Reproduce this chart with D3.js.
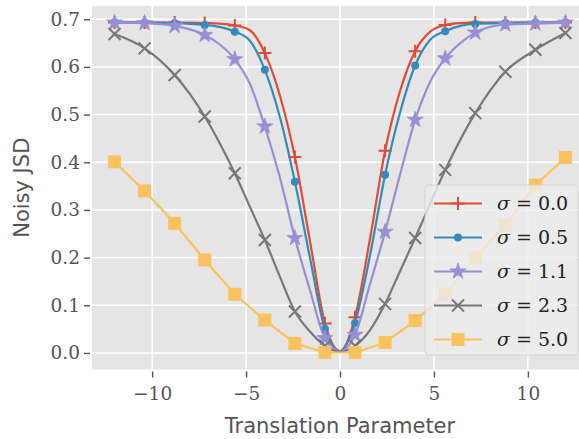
<!DOCTYPE html>
<meta charset="utf-8">
<style>
    body { margin: 0; background: #fff; }
    .tick-label { font-family: "DejaVu Serif", serif; font-size: 18.5px; fill: #555; }
    .axis-label { font-family: "DejaVu Sans", sans-serif; font-size: 21px; fill: #555; }
    .leg-text { font-family: "DejaVu Serif", serif; font-size: 19px; fill: #222; }
</style>
<svg width="579" height="439"></svg>
<script src="https://d3js.org/d3.v7.min.js"></script>
<script>

    // x positions (the markers sit on the 1.6 grid, extra points only shape the lines)
    var xFine = [-12, -10.4, -8.8, -7.2, -6.4, -5.6, -4.8, -4, -3.2, -2.4, -1.6, -0.8, 0,
        0.8, 1.6, 2.4, 3.2, 4, 4.8, 5.6, 6.4, 7.2, 8.8, 10.4, 12];
    var xMarks = [-12, -10.4, -8.8, -7.2, -5.6, -4, -2.4, -0.8, 0.8, 2.4, 4, 5.6, 7.2, 8.8, 10.4, 12];

    var jsd00 = [0.693, 0.693, 0.693, 0.692, 0.691, 0.687, 0.677, 0.629, 0.540, 0.411, 0.235, 0.062, 0.004,
        0.075, 0.240, 0.424, 0.550, 0.633, 0.674, 0.688, 0.692, 0.693, 0.693, 0.693, 0.693];
    var jsd05 = [0.693, 0.693, 0.692, 0.688, 0.684, 0.674, 0.655, 0.594, 0.495, 0.359, 0.200, 0.050, 0.004,
        0.063, 0.205, 0.374, 0.505, 0.603, 0.657, 0.675, 0.686, 0.690, 0.692, 0.693, 0.693];
    var jsd11 = [0.693, 0.692, 0.686, 0.667, 0.647, 0.616, 0.565, 0.475, 0.368, 0.241, 0.132, 0.031, 0.004,
        0.038, 0.145, 0.254, 0.375, 0.489, 0.569, 0.618, 0.650, 0.672, 0.689, 0.691, 0.693];
    var jsd23 = [0.669, 0.639, 0.583, 0.496, 0.440, 0.377, 0.307, 0.237, 0.160, 0.087, 0.045, 0.015, 0.003,
        0.015, 0.048, 0.103, 0.172, 0.241, 0.313, 0.384, 0.447, 0.503, 0.590, 0.636, 0.671];
    var jsd50 = [0.401, 0.340, 0.272, 0.195, 0.123, 0.069, 0.020, 0.001, 0.001, 0.022, 0.068, 0.122,
        0.200, 0.268, 0.352, 0.410];

    var legendLabels = ["0.0", "0.5", "1.1", "2.3", "5.0"];
    var xTicks = [-10, -5, 0, 5, 10];
    var yTicks = [0.0, 0.1, 0.2, 0.3, 0.4, 0.5, 0.6, 0.7];

    var series = [
        { name: legendLabels[0], xs: xFine, ys: jsd00, color: "#E24A33", marker: "plus", smooth: true },
        { name: legendLabels[1], xs: xFine, ys: jsd05, color: "#348ABD", marker: "dot", smooth: true },
        { name: legendLabels[2], xs: xFine, ys: jsd11, color: "#988ED5", marker: "star", smooth: true },
        { name: legendLabels[3], xs: xFine, ys: jsd23, color: "#777777", marker: "cross", smooth: true },
        { name: legendLabels[4], xs: xMarks, ys: jsd50, color: "#FBC15E", marker: "square", smooth: false }
    ];

    var svg = d3.select("svg");
    var mLeft = 92, mRight = 588, mTop = 6, mBottom = 369.5;

    var x = d3.scaleLinear().domain([-13.2, 13.2]).range([mLeft, mRight]);
    var y = d3.scaleLinear().domain([-0.0347, 0.7278]).range([mBottom, mTop]);

    // background + grid
    svg.append("rect")
        .attr("x", mLeft).attr("y", mTop)
        .attr("width", mRight - mLeft).attr("height", mBottom - mTop)
        .attr("fill", "#E5E5E5");

    var grid = svg.append("g");
    grid.selectAll(".gx").data(xTicks).enter().append("line")
        .attr("x1", d => x(d)).attr("x2", d => x(d))
        .attr("y1", mTop).attr("y2", mBottom)
        .attr("stroke", "#fff").attr("stroke-width", 1.5);
    grid.selectAll(".gy").data(yTicks).enter().append("line")
        .attr("y1", d => y(d)).attr("y2", d => y(d))
        .attr("x1", mLeft).attr("x2", mRight)
        .attr("stroke", "#fff").attr("stroke-width", 1.5);

    // axes
    var xAxis = svg.append("g")
        .attr("transform", "translate(0," + (mBottom + 2) + ")")
        .call(d3.axisBottom(x).tickValues(xTicks).tickSize(6).tickPadding(6)
            .tickFormat(d => d < 0 ? "\u2212" + Math.abs(d) : d));
    var yAxis = svg.append("g")
        .attr("transform", "translate(" + (mLeft - 2) + ",0)")
        .call(d3.axisLeft(y).tickValues(yTicks).tickSize(6).tickPadding(4)
            .tickFormat(d3.format(".1f")));

    [xAxis, yAxis].forEach(function (g) {
        g.attr("font-family", null).attr("font-size", null);
        g.select(".domain").remove();
        g.selectAll(".tick line").attr("stroke", "#555").attr("stroke-width", 1.4);
        g.selectAll(".tick text").attr("class", "tick-label");
    });
    xAxis.selectAll(".tick text").attr("dy", "0.9em");

    svg.append("text")
        .attr("class", "axis-label")
        .attr("x", x(0)).attr("y", 433)
        .attr("text-anchor", "middle")
        .text("Translation Parameter");
    svg.append("text")
        .attr("class", "axis-label")
        .attr("transform", "translate(29," + ((mTop + mBottom) / 2) + ") rotate(-90)")
        .attr("text-anchor", "middle")
        .text("Noisy JSD");

    // markers
    function drawMarker(g, type, color) {
        if (type === "plus") {
            g.append("path").attr("d", "M-6.5,0H6.5M0,-6.5V6.5")
                .attr("stroke", color).attr("stroke-width", 2).attr("fill", "none");
        } else if (type === "cross") {
            g.append("path").attr("d", "M-6,-6L6,6M-6,6L6,-6")
                .attr("stroke", color).attr("stroke-width", 2).attr("fill", "none");
        } else if (type === "dot") {
            g.append("circle").attr("r", 4).attr("fill", color);
        } else if (type === "star") {
            g.append("path").attr("d", d3.symbol().type(d3.symbolStar).size(80)())
                .attr("fill", color).attr("stroke", color).attr("stroke-width", 0.8);
        } else if (type === "square") {
            g.append("rect").attr("x", -6.5).attr("y", -6.5).attr("width", 13).attr("height", 13)
                .attr("fill", color);
        }
    }

    var plot = svg.append("g");
    series.forEach(function (s) {
        var pts = s.xs.map((v, i) => [v, s.ys[i]]);
        var line = d3.line()
            .x(d => x(d[0])).y(d => y(d[1]))
            .curve(s.smooth ? d3.curveMonotoneX : d3.curveLinear);
        var g = plot.append("g");
        g.append("path").datum(pts)
            .attr("d", line)
            .attr("fill", "none")
            .attr("stroke", s.color)
            .attr("stroke-width", 2.2);
        pts.filter(d => xMarks.indexOf(d[0]) >= 0).forEach(function (d) {
            var m = g.append("g").attr("transform", "translate(" + x(d[0]) + "," + y(d[1]) + ")");
            drawMarker(m, s.marker, s.color);
        });
    });

    // legend
    var leg = svg.append("g");
    leg.append("rect")
        .attr("x", 425).attr("y", 185).attr("width", 153).attr("height", 170)
        .attr("rx", 4)
        .attr("fill", "rgba(236,236,236,0.8)")
        .attr("stroke", "rgba(205,205,205,0.8)");
    series.forEach(function (s, i) {
        var cy = 203.5 + i * 34;
        leg.append("line")
            .attr("x1", 434).attr("x2", 482).attr("y1", cy).attr("y2", cy)
            .attr("stroke", s.color).attr("stroke-width", 2.2);
        drawMarker(leg.append("g").attr("transform", "translate(458," + cy + ")"), s.marker, s.color);
        var t = leg.append("text").attr("class", "leg-text")
            .attr("x", 497).attr("y", cy).attr("dy", "0.35em");
        t.append("tspan").attr("font-style", "italic").text("\u03C3");
        t.append("tspan").text(" = " + s.name);
    });

</script>
